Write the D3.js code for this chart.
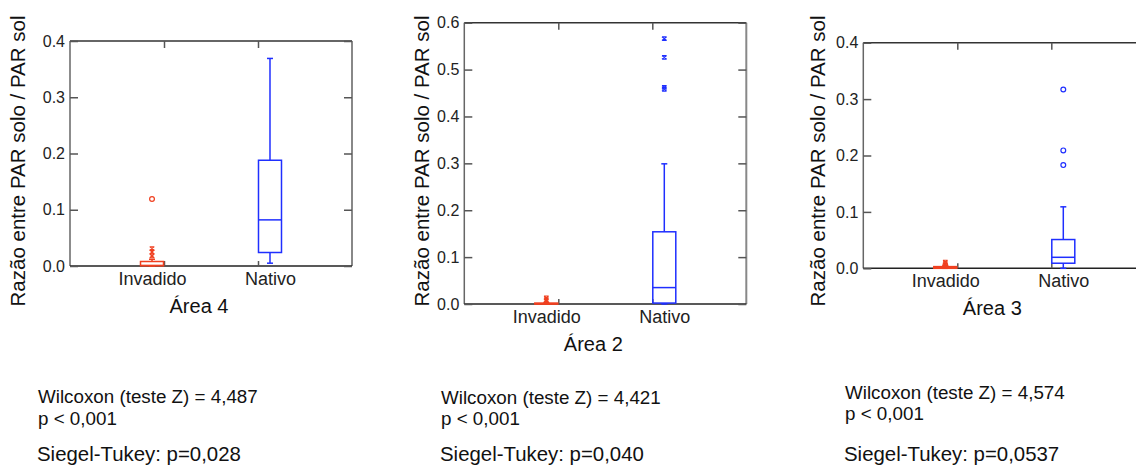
<!DOCTYPE html>
<html>
<head>
<meta charset="utf-8">
<script src="https://cdn.jsdelivr.net/npm/d3@7"></script>
<style>
  body { margin: 0; background: #fff; }
  svg { display: block; font-family: "Liberation Sans", Arial, sans-serif; }
</style>
</head>
<body>
<svg id="chart" width="1136" height="466"></svg>
<script>
// data
var categories = ['Invadido', 'Nativo'];
var areaNames = ['Área 4', 'Área 2', 'Área 3'];
var yMaxes = [0.4, 0.6, 0.4];
var yTicks4 = [0, 0.1, 0.2, 0.3, 0.4];
var yTicks2 = [0, 0.1, 0.2, 0.3, 0.4, 0.5, 0.6];
var yTicks3 = [0, 0.1, 0.2, 0.3, 0.4];

// box stats: [whisker low, q1, median, q3, whisker high]
var area4Invadido = [0, 0.0005, 0.001, 0.008, 0.012];
var area4Nativo = [0.005, 0.024, 0.082, 0.188, 0.369];
var area2Invadido = [0, 0, 0.0005, 0.002, 0.003];
var area2Nativo = [0, 0.002, 0.035, 0.154, 0.299];
var area3Invadido = [0, 0, 0.001, 0.003, 0.004];
var area3Nativo = [0, 0.009, 0.0195, 0.051, 0.109];

// outliers: stars (far) and circles
var area4InvadidoStars = [0.031, 0.025, 0.018];
var area4InvadidoCircles = [0.119];
var area4NativoStars = [];
var area4NativoCircles = [];
var area2InvadidoStars = [0.013, 0.009];
var area2InvadidoCircles = [];
var area2NativoStars = [0.566, 0.526, 0.462, 0.458];
var area2NativoCircles = [];
var area3InvadidoStars = [0.011, 0.008];
var area3InvadidoCircles = [0.005];
var area3NativoStars = [];
var area3NativoCircles = [0.317, 0.209, 0.183];

var wilcoxonZ = ['4,487', '4,421', '4,574'];
var wilcoxonP = ['p < 0,001', 'p < 0,001', 'p < 0,001'];
var siegelP = ['0,028', '0,040', '0,0537'];

var yTitle = 'Razão entre PAR solo / PAR sol';
var colors = ['#f04020', '#1f2fff'];

// panel placement
var plotWidth = 282;
var panels = [
	{left: 70, top: 41, bottom: 266, titleX: 25, statX: 38, statY: [403, 425, 461]},
	{left: 464.3, top: 22.7, bottom: 304, titleX: 429, statX: 441, statY: [404, 425, 461]},
	{left: 863.3, top: 42.7, bottom: 268.3, titleX: 825, statX: 845, statY: [399, 420, 461]}
];

var boxes = [
	[area4Invadido, area4Nativo],
	[area2Invadido, area2Nativo],
	[area3Invadido, area3Nativo]
];
var stars = [
	[area4InvadidoStars, area4NativoStars],
	[area2InvadidoStars, area2NativoStars],
	[area3InvadidoStars, area3NativoStars]
];
var circles = [
	[area4InvadidoCircles, area4NativoCircles],
	[area2InvadidoCircles, area2NativoCircles],
	[area3InvadidoCircles, area3NativoCircles]
];
var yTicks = [yTicks4, yTicks2, yTicks3];

// hourglass-like "far outside" marker
var symbolStar = {
	draw: function(ctx, size) {
		var r = Math.sqrt(size) / 2;
		var ry = r * 0.8;
		ctx.moveTo(-r, -ry); ctx.lineTo(r, -ry);
		ctx.moveTo(-r, ry); ctx.lineTo(r, ry);
		ctx.moveTo(-r, -ry); ctx.lineTo(r, ry);
		ctx.moveTo(r, -ry); ctx.lineTo(-r, ry);
	}
};

var svg = d3.select('#chart');
var boxWidth = 23;
var capWidth = 6;

panels.forEach(function(p, i) {
	var y = d3.scaleLinear().domain([0, yMaxes[i]]).range([p.bottom - p.top, 0]);
	var xBox = d3.scalePoint().domain(categories).range([0, plotWidth]).padding(0.695);
	var xTick = d3.scalePoint().domain(categories).range([0, plotWidth]).padding(1);
	var h = p.bottom - p.top;

	var g = svg.append('g').attr('transform', 'translate(' + p.left + ',' + p.top + ')');

	// frame
	g.append('line').attr('x1', 0).attr('x2', plotWidth).attr('y1', 0).attr('y2', 0)
		.attr('stroke', '#333').attr('stroke-width', 1.5);
	g.append('line').attr('x1', plotWidth).attr('x2', plotWidth).attr('y1', 0).attr('y2', h)
		.attr('stroke', '#888').attr('stroke-width', 2);
	g.append('line').attr('x1', 0).attr('x2', 0).attr('y1', 0).attr('y2', h)
		.attr('stroke', '#666').attr('stroke-width', 1.5);
	g.append('line').attr('x1', 0).attr('x2', plotWidth).attr('y1', h).attr('y2', h)
		.attr('stroke', '#222').attr('stroke-width', 1.5);

	// axes, ticks pointing inward
	var left = g.append('g').call(d3.axisLeft(y).tickValues(yTicks[i]).tickSize(-8).tickPadding(5).tickFormat(d3.format('.1f')));
	var right = g.append('g').attr('transform', 'translate(' + plotWidth + ',0)')
		.call(d3.axisRight(y).tickValues(yTicks[i]).tickSize(-8).tickFormat(''));
	var top = g.append('g').call(d3.axisTop(xTick).tickSize(-7).tickFormat(''));
	var bottom = g.append('g').attr('transform', 'translate(0,' + h + ')')
		.call(d3.axisBottom(xTick).tickSize(-5).tickFormat(''));
	var cats = g.append('g').attr('transform', 'translate(0,' + h + ')')
		.call(d3.axisBottom(xBox).tickSize(0).tickPadding(6));

	[left, right, top, bottom, cats].forEach(function(a) {
		a.select('.domain').remove();
		a.selectAll('.tick line').attr('stroke', '#555').attr('stroke-width', 1.5);
	});
	left.selectAll('text').attr('font-size', 16).attr('fill', '#222').attr('font-family', null);
	cats.selectAll('text').attr('font-size', 18).attr('fill', '#222').attr('font-family', null);

	// boxes
	categories.forEach(function(c, k) {
		var b = boxes[i][k];
		var cx = xBox(c);
		var col = colors[k];
		var bg = g.append('g').attr('stroke', col).attr('fill', 'none').attr('stroke-width', 1.5);
		bg.append('line').attr('x1', cx).attr('x2', cx).attr('y1', y(b[0])).attr('y2', y(b[1]));
		bg.append('line').attr('x1', cx).attr('x2', cx).attr('y1', y(b[3])).attr('y2', y(b[4]));
		bg.append('line').attr('x1', cx - capWidth / 2).attr('x2', cx + capWidth / 2).attr('y1', y(b[0])).attr('y2', y(b[0]));
		bg.append('line').attr('x1', cx - capWidth / 2).attr('x2', cx + capWidth / 2).attr('y1', y(b[4])).attr('y2', y(b[4]));
		bg.append('rect').attr('x', cx - boxWidth / 2).attr('width', boxWidth)
			.attr('y', y(b[3])).attr('height', Math.max(y(b[1]) - y(b[3]), 1));
		bg.append('line').attr('x1', cx - boxWidth / 2).attr('x2', cx + boxWidth / 2).attr('y1', y(b[2])).attr('y2', y(b[2]));

		g.selectAll(null).data(stars[i][k]).enter().append('path')
			.attr('d', d3.symbol().type(symbolStar).size(22))
			.attr('transform', function(d) { return 'translate(' + cx + ',' + y(d) + ')'; })
			.attr('stroke', col).attr('stroke-width', 1.1).attr('fill', 'none');
		g.selectAll(null).data(circles[i][k]).enter().append('circle')
			.attr('cx', cx).attr('cy', function(d) { return y(d); }).attr('r', 2.4)
			.attr('stroke', col).attr('stroke-width', 1.2).attr('fill', 'none');
	});

	// axis titles
	g.append('text').attr('x', 129).attr('y', h + 47).attr('text-anchor', 'middle')
		.attr('font-size', 20).attr('fill', '#111').text(areaNames[i]);
	svg.append('text')
		.attr('transform', 'translate(' + p.titleX + ',161) rotate(-90)')
		.attr('text-anchor', 'middle').attr('font-size', 20.5).attr('fill', '#111')
		.text(yTitle);

	// test results
	svg.append('text').attr('x', p.statX).attr('y', p.statY[0]).attr('font-size', 18.8).attr('fill', '#111')
		.text('Wilcoxon (teste Z) = ' + wilcoxonZ[i]);
	svg.append('text').attr('x', p.statX).attr('y', p.statY[1]).attr('font-size', 18.8).attr('fill', '#111')
		.text(wilcoxonP[i]);
	svg.append('text').attr('x', p.statX - 1).attr('y', p.statY[2]).attr('font-size', 20.4).attr('fill', '#111')
		.text('Siegel-Tukey: p=' + siegelP[i]);
});
</script>
</body>
</html>
